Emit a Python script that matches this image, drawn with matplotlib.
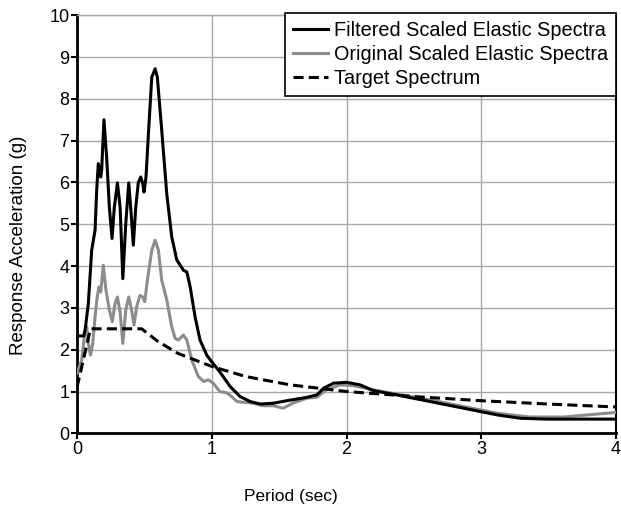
import matplotlib.pyplot as plt

plt.rcParams['font.family'] = ['Liberation Sans', 'DejaVu Sans']

# filtered scaled elastic spectra
t_filt = [0, 0.05, 0.06, 0.084, 0.109, 0.134, 0.146, 0.158, 0.176, 0.183,
          0.2, 0.22, 0.24, 0.26, 0.277, 0.3, 0.32, 0.34, 0.362, 0.384,
          0.40, 0.418, 0.436, 0.455, 0.473, 0.488, 0.497, 0.512, 0.53, 0.555,
          0.58, 0.596, 0.629, 0.666, 0.703, 0.74, 0.79, 0.815, 0.84, 0.876,
          0.913, 0.963, 1.0, 1.06, 1.136, 1.21, 1.285, 1.36, 1.457, 1.557,
          1.705, 1.78, 1.83, 1.904, 2.0, 2.1, 2.2, 2.37, 2.62, 2.87,
          3.12, 3.29, 3.49, 4.0]
sa_filt = [2.33, 2.33, 2.47, 3.1, 4.38, 4.86, 5.81, 6.45, 6.13, 6.3,
           7.5, 6.6, 5.41, 4.66, 5.41, 5.99, 5.41, 3.7, 5.02, 5.99,
           5.33, 4.5, 5.41, 6.0, 6.13, 5.97, 5.77, 6.13, 7.17, 8.52,
           8.72, 8.52, 7.24, 5.73, 4.7, 4.15, 3.9, 3.86, 3.5, 2.79,
           2.23, 1.87, 1.71, 1.47, 1.12, 0.88, 0.76, 0.70, 0.72, 0.78,
           0.86, 0.92, 1.08, 1.2, 1.22, 1.16, 1.02, 0.92, 0.76, 0.60,
           0.44, 0.36, 0.34, 0.34]

# original scaled elastic spectra
t_orig = [0, 0.035, 0.06, 0.072, 0.084, 0.1, 0.117, 0.134, 0.15, 0.163,
          0.176, 0.195, 0.215, 0.24, 0.262, 0.282, 0.3, 0.32, 0.34, 0.362,
          0.384, 0.405, 0.423, 0.443, 0.467, 0.488, 0.503, 0.522, 0.555, 0.58,
          0.604, 0.629, 0.666, 0.703, 0.728, 0.752, 0.79, 0.815, 0.852, 0.9,
          0.94, 0.975, 1.01, 1.06, 1.11, 1.148, 1.186, 1.247, 1.31, 1.38,
          1.457, 1.53, 1.6, 1.705, 1.78, 1.85, 1.95, 2.05, 2.2, 2.37,
          2.62, 2.87, 3.12, 3.36, 3.61, 4.0]
sa_orig = [1.44, 1.75, 2.47, 2.55, 2.15, 1.87, 2.15, 2.79, 3.26, 3.5,
           3.38, 4.02, 3.42, 2.95, 2.67, 3.1, 3.26, 2.9, 2.15, 2.95,
           3.26, 2.95, 2.59, 3.03, 3.3, 3.26, 3.15, 3.66, 4.38, 4.62,
           4.38, 3.66, 3.19, 2.55, 2.27, 2.23, 2.35, 2.23, 1.75, 1.36,
           1.24, 1.28, 1.2, 1.0, 0.97, 0.88, 0.76, 0.74, 0.72, 0.66,
           0.66, 0.6, 0.72, 0.84, 0.86, 1.04, 1.16, 1.14, 1.04, 0.94,
           0.8, 0.64, 0.48, 0.39, 0.39, 0.5]

# target spectrum
t_targ = [0, 0.1, 0.48, 0.6, 0.75, 1.0, 1.25, 1.58, 2.0, 2.5, 3.0, 3.5, 4.0]
sa_targ = [1.1, 2.5, 2.5, 2.2, 1.91, 1.6, 1.36, 1.16, 1.0, 0.88, 0.78, 0.70, 0.63]

fig, ax = plt.subplots(figsize=(6.21, 5.08), dpi=100)
fig.subplots_adjust(left=0.124, right=0.992, bottom=0.147, top=0.97)

ax.plot(t_filt, sa_filt, color='black', lw=2.2, label='Filtered Scaled Elastic Spectra', zorder=4)
ax.plot(t_orig, sa_orig, color='#8c8c8c', lw=2.2, label='Original Scaled Elastic Spectra', zorder=3)
ax.plot(t_targ, sa_targ, color='black', lw=2.2, dashes=(3.3, 1.7), label='Target Spectrum', zorder=5)

ax.set_xlim(0, 4)
ax.set_ylim(0, 10)
ax.set_xticks([0, 1, 2, 3, 4])
ax.set_yticks(range(11))
ax.tick_params(labelsize=13, length=4, width=1.5, pad=1.5)

ax.grid(True, color='#a8a8a8', lw=1)
ax.set_axisbelow(True)
for s in ['left', 'bottom']:
    ax.spines[s].set_linewidth(2)
ax.spines['right'].set_linewidth(1.5)
ax.spines['top'].set_color('#a8a8a8')
ax.spines['top'].set_linewidth(1)

ax.set_xlabel('Period (sec)', fontsize=12.5)
ax.xaxis.set_label_coords(0.397, -0.133)
ax.set_ylabel('Response Acceleration (g)', fontsize=13.5)
ax.yaxis.set_label_coords(-0.093, 0.45)

leg = ax.legend(loc='upper right', bbox_to_anchor=(1, 1.005), borderaxespad=0,
                fontsize=14.3, fancybox=False, framealpha=1, edgecolor='black',
                handlelength=1.75, handletextpad=0.3, labelspacing=0.25,
                borderpad=0.4)
leg.get_frame().set_linewidth(1.2)
leg.set_zorder(10)

fig.savefig('out.png', dpi=100)
